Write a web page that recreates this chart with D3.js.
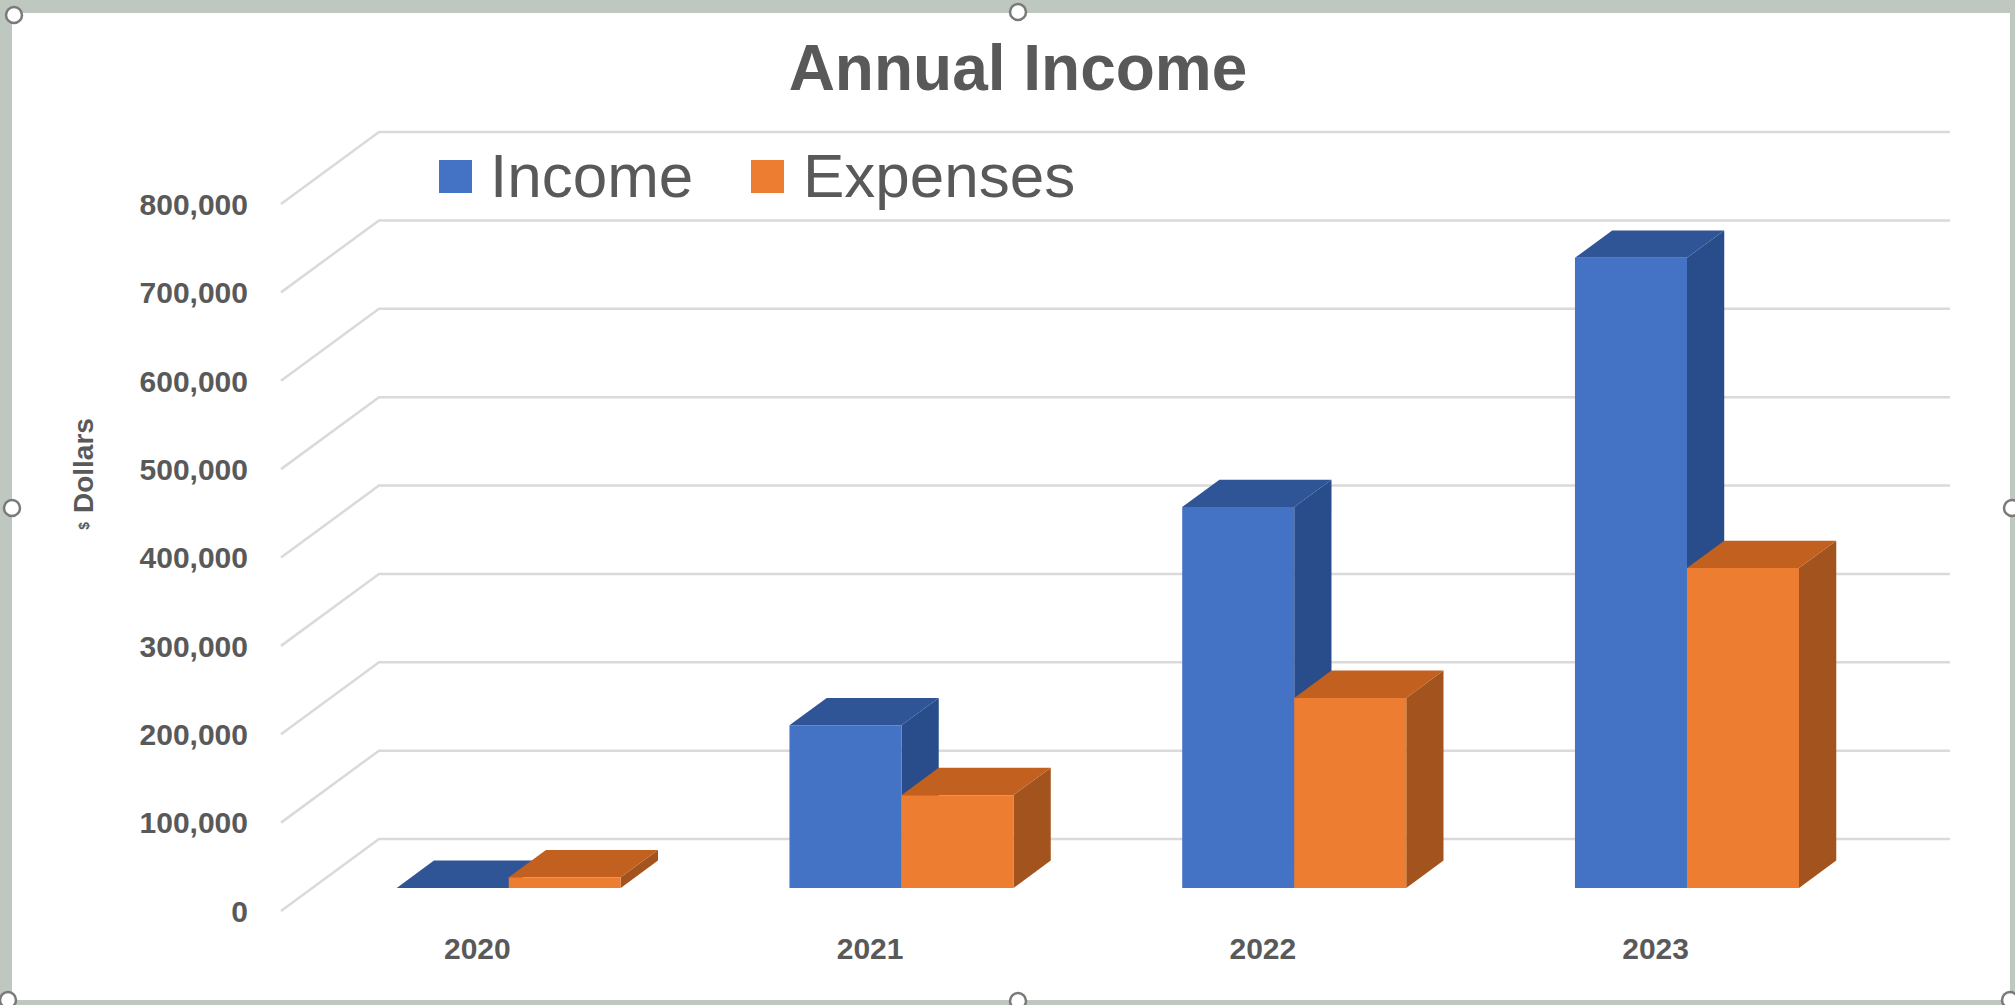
<!DOCTYPE html>
<html>
<head>
<meta charset="utf-8">
<script src="https://cdn.jsdelivr.net/npm/d3@7"></script>
<style>
  html, body { margin: 0; padding: 0; background: #c0c8c2; }
  svg { display: block; }
</style>
</head>
<body>
<svg id="chart" width="2015" height="1005"></svg>
<script>
// Chart values
const categories = ["2020", "2021", "2022", "2023"];
const seriesNames = ["Income", "Expenses"];
const income = [0, 184000, 431000, 713000];
const expenses = [12000, 105000, 215000, 362000];
const yTicks = [0, 100000, 200000, 300000, 400000, 500000, 600000, 700000, 800000];
const chartTitle = "Annual Income";
const axisTitle = "Dollars";

const W = 2015, H = 1005;
const svg = d3.select("#chart");

// Frame: grey window around a white chart area
svg.append("rect").attr("x", 0).attr("y", 0).attr("width", W).attr("height", H).attr("fill", "#bfc7c1");
svg.append("rect").attr("x", 12).attr("y", 13).attr("width", 1998).attr("height", 987).attr("fill", "#ffffff");

// Oblique 3D projection: front plane + depth vector
const DX = 98, DY = 72;           // full floor depth offset (to the back wall)
const DEPTH_FRONT = 0.32, DEPTH_BACK = 0.70;   // bar depth range
const x0 = d3.scaleBand().domain(categories).range([281, 1852]).paddingInner(0).paddingOuter(0);
const x1 = d3.scaleBand().domain(seriesNames).range([0, x0.bandwidth()]).paddingInner(0).paddingOuter(0.753);
const y = d3.scaleLinear().domain([0, 800000]).range([911, 204]);
const proj = (x, v, d) => [x + d * DX, y(v) - d * DY];

const textColor = "#595959";
const font = "'Liberation Sans', Arial, sans-serif";

// Gridlines: side-wall diagonal + back-wall horizontal
const grid = svg.append("g").attr("fill", "none").attr("stroke", "#dadada").attr("stroke-width", 2.5);
yTicks.forEach(v => {
  const a = proj(x0.range()[0], v, 0);
  const b = proj(x0.range()[0], v, 1);
  const c = proj(x0.range()[1], v, 1);
  grid.append("path").attr("d", d3.line()([a, b, c]));
});

// Y tick labels
svg.append("g").selectAll("text").data(yTicks).join("text")
  .attr("x", 248).attr("y", d => y(d))
  .attr("dy", "0.36em")
  .attr("text-anchor", "end")
  .attr("font-family", font).attr("font-weight", "bold").attr("font-size", 30)
  .attr("fill", textColor)
  .text(d => d3.format(",")(d));

// Category labels
svg.append("g").selectAll("text").data(categories).join("text")
  .attr("x", d => x0(d) + x0.bandwidth() / 2).attr("y", 948)
  .attr("dy", "0.36em")
  .attr("text-anchor", "middle")
  .attr("font-family", font).attr("font-weight", "bold").attr("font-size", 30)
  .attr("fill", textColor)
  .text(d => d);

// Bars
const palette = {
  Income:   { front: "#4472c4", top: "#2f5597", side: "#294c8a" },
  Expenses: { front: "#ed7d31", top: "#c2601f", side: "#a3531d" }
};
const values = { Income: income, Expenses: expenses };
const barData = [];
categories.forEach((c, i) => {
  seriesNames.forEach(s => barData.push({ cat: c, series: s, value: values[s][i] }));
});

const poly = pts => "M" + pts.map(p => p.join(",")).join("L") + "Z";
const bars = svg.append("g").selectAll("g").data(barData).join("g");
bars.each(function(d) {
  const g = d3.select(this);
  const xl = x0(d.cat) + x1(d.series);
  const xr = xl + x1.bandwidth();
  const col = palette[d.series];
  // right side face
  g.append("path").attr("fill", col.side).attr("d", poly([
    proj(xr, d.value, DEPTH_FRONT), proj(xr, d.value, DEPTH_BACK),
    proj(xr, 0, DEPTH_BACK), proj(xr, 0, DEPTH_FRONT)
  ]));
  // top face
  g.append("path").attr("fill", col.top).attr("d", poly([
    proj(xl, d.value, DEPTH_FRONT), proj(xr, d.value, DEPTH_FRONT),
    proj(xr, d.value, DEPTH_BACK), proj(xl, d.value, DEPTH_BACK)
  ]));
  // front face
  g.append("path").attr("fill", col.front).attr("d", poly([
    proj(xl, d.value, DEPTH_FRONT), proj(xr, d.value, DEPTH_FRONT),
    proj(xr, 0, DEPTH_FRONT), proj(xl, 0, DEPTH_FRONT)
  ]));
});

// Title
svg.append("text")
  .attr("x", 1018).attr("y", 90)
  .attr("text-anchor", "middle")
  .attr("font-family", font).attr("font-weight", "bold").attr("font-size", 64)
  .attr("fill", textColor)
  .text(chartTitle);

// Legend
const legendPos = [{ sx: 439, tx: 490 }, { sx: 751, tx: 803 }];
const legend = svg.append("g").selectAll("g").data(seriesNames).join("g");
legend.append("rect")
  .attr("x", (d, i) => legendPos[i].sx).attr("y", 160)
  .attr("width", 33).attr("height", 33)
  .attr("fill", d => palette[d].front);
legend.append("text")
  .attr("x", (d, i) => legendPos[i].tx).attr("y", 197)
  .attr("font-family", font).attr("font-size", 62)
  .attr("fill", textColor)
  .text(d => d);

// Y axis title: small "$" followed by the word
const yt = svg.append("text")
  .attr("transform", "translate(93,474) rotate(-90)")
  .attr("text-anchor", "middle")
  .attr("font-family", font).attr("font-weight", "bold")
  .attr("fill", textColor);
yt.append("tspan").attr("font-size", 14).attr("dy", -4).text("$");
yt.append("tspan").attr("font-size", 28).attr("dx", 9).attr("dy", 4).text(axisTitle);

// Selection handles on the chart frame
const handles = [[1018, 12], [1018, 1001], [12, 508], [2012, 508], [14, 15], [8, 1000], [2010, 1000]];
svg.append("g").selectAll("circle").data(handles).join("circle")
  .attr("cx", d => d[0]).attr("cy", d => d[1]).attr("r", 8)
  .attr("fill", "#ffffff").attr("stroke", "#7a7a7a").attr("stroke-width", 2.5);
</script>
</body>
</html>
